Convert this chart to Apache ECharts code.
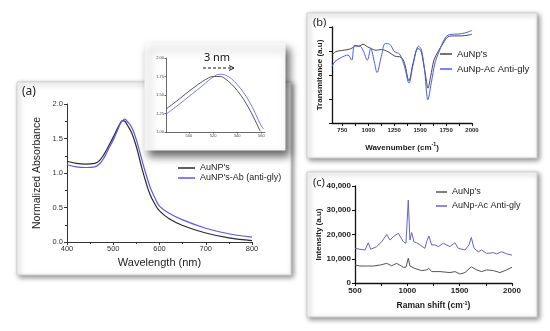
<!DOCTYPE html>
<html>
<head>
<meta charset="utf-8">
<script src="https://cdn.jsdelivr.net/npm/echarts@6/dist/echarts.min.js"></script>
<style>html,body{margin:0;padding:0;background:#fff}#c{width:550px;height:331px}</style>
</head>
<body>
<div id="c"></div>
<script>
// ---------- Panel (a): UV-Vis absorbance ----------
const absWl = [400,420,440,460,470,480,490,500,510,515,520,525,530,540,550,560,570,580,590,600,620,650,700,750,800];
const absAuNP = [1.17,1.14,1.13,1.14,1.18,1.27,1.39,1.52,1.66,1.72,1.76,1.75,1.70,1.58,1.38,1.12,0.88,0.68,0.55,0.45,0.34,0.24,0.13,0.06,0.02];
const absAuNPAb = [1.12,1.09,1.08,1.09,1.13,1.22,1.35,1.48,1.63,1.71,1.76,1.78,1.75,1.66,1.48,1.24,1.00,0.79,0.64,0.52,0.42,0.32,0.20,0.12,0.07];
// inset (zoom of peak)
const insetWlAuNP = [481,490,500,510,515,520,525,530,540,550,559];
const insetAuNP = [1.31,1.42,1.55,1.67,1.72,1.75,1.75,1.72,1.56,1.31,1.01];
const insetWlAuNPAb = [481,490,500,510,515,520,525,530,540,550,560,562];
const insetAuNPAb = [1.24,1.35,1.48,1.61,1.68,1.74,1.78,1.77,1.64,1.41,1.08,1.04];
const absXTicks = [400,500,600,700,800];
const insetXTicks = [500,520,540,560];

// ---------- Panel (b): FTIR ----------
const ftirXAuNp = [650,685,740,804,852,870,910,949,990,1029,1077,1125,1190,1254,1318,1350,1392,1431,1479,1505,1527,1559,1575,1601,1633,1672,1720,1768,1832,1897,1961,2000];
const ftirAuNp = [2.83,2.97,3.02,3.06,3.14,3.24,3.2,3.28,3.18,3.1,3.03,3.06,2.97,2.79,2.73,2.48,1.76,2.48,3.1,3.03,2.62,1.79,1.45,1.93,2.62,2.97,3.31,3.59,3.63,3.63,3.66,3.7];
const ftirXAb = [650,676,740,804,840,868,917,949,991,1023,1061,1084,1125,1164,1206,1254,1302,1350,1392,1431,1485,1511,1543,1575,1607,1646,1688,1720,1768,1832,1897,1961,2000];
const ftirAb = [2.34,2.55,2.73,2.83,2.62,3.2,3.2,3.03,2.62,3.1,2.48,2.1,2.76,3.31,3.28,2.97,2.87,2.34,1.66,2.41,3.2,3.06,2.21,0.97,1.66,2.55,3.03,3.38,3.66,3.7,3.72,3.79,3.86];
const ftirXLabels = [750,1000,1250,1500,1750,2000];
const ftirXTicks = [750,875,1000,1125,1250,1375,1500,1625,1750,1875,2000];

// ---------- Panel (c): Raman ----------
const ramanXAuNp = [500,548,611,675,739,803,850,898,962,987,1009,1025,1041,1073,1136,1184,1206,1232,1312,1407,1455,1503,1551,1611,1662,1710,1758,1822,1885,1949,2000];
const ramanAuNp = [7400,7000,7000,7000,7400,8100,7100,8100,6500,6500,10200,7000,7000,6000,5100,5400,6000,4700,4700,4300,4700,3700,4300,6700,5400,4700,5400,5100,4300,5400,6500];
const ramanXAb = [500,548,596,627,650,707,755,803,835,866,914,962,987,1009,1025,1041,1063,1089,1121,1168,1184,1206,1232,1264,1296,1344,1407,1455,1487,1551,1589,1611,1637,1678,1710,1758,1822,1853,1901,1949,2000];
const ramanAb = [14300,13900,13600,16600,13900,15000,17000,20000,17700,19100,20500,17000,16400,34200,17700,20800,17000,16600,15700,14300,17000,19400,15700,15700,15000,16400,15000,16600,14300,13600,15700,18800,14300,12900,13600,12200,12500,12000,12900,12000,11500];

const pairs = (xs, ys) => xs.map((x, i) => [x, ys[i]]);
const F = "'Liberation Sans', Arial, sans-serif";
const NF = "'Noto Sans', 'Open Sans', sans-serif";
const plain = v => String(v);

const cA = '#2a2a2a', bA = '#5a58e8';
const cB = '#454545', bB = '#4c5ce6';
const cC = '#555555', bC = '#6464c8';

const supRich = (fs) => ({
  t: {fontSize: fs, fontWeight: 'bold', fontFamily: F, color: '#1a1a1a', lineHeight: fs + 3},
  s: {fontSize: fs * 0.65, fontWeight: 'bold', fontFamily: F, color: '#1a1a1a', verticalAlign: 'top', lineHeight: fs + 3}
});

const chart = echarts.init(document.getElementById('c'), null, {renderer: 'canvas'});
chart.setOption({
  backgroundColor: '#ffffff',
  animation: false,
  graphic: {elements: [
    {type: 'rect', z: 1, shape: {x: 17, y: 82, width: 274, height: 193},
     style: {fill: '#fff', stroke: '#cfcfcf', lineWidth: 1, shadowBlur: 5, shadowOffsetX: 2, shadowOffsetY: 2, shadowColor: 'rgba(0,0,0,0.45)'}},
    {type: 'rect', z: 1, shape: {x: 307, y: 13, width: 230, height: 145},
     style: {fill: '#fff', stroke: '#cfcfcf', lineWidth: 1, shadowBlur: 5, shadowOffsetX: 2, shadowOffsetY: 2, shadowColor: 'rgba(0,0,0,0.45)'}},
    {type: 'rect', z: 1, shape: {x: 307, y: 172, width: 230, height: 145},
     style: {fill: '#fff', stroke: '#cfcfcf', lineWidth: 1, shadowBlur: 5, shadowOffsetX: 2, shadowOffsetY: 2, shadowColor: 'rgba(0,0,0,0.45)'}},
    {type: 'rect', z: 2, shape: {x: 145, y: 43, width: 140, height: 107},
     style: {fill: '#fff', stroke: '#f4f4f4', lineWidth: 1, shadowBlur: 8, shadowOffsetX: 4, shadowOffsetY: 6, shadowColor: 'rgba(0,0,0,0.6)'}},
    {type: 'text', z: 20, x: 22, y: 92, style: {text: '(a)', fontSize: 12, fontFamily: NF, fill: '#222', align: 'left', verticalAlign: 'middle'}},
    {type: 'text', z: 20, x: 313, y: 23, style: {text: '(b)', fontSize: 11, fontFamily: NF, fill: '#222', align: 'left', verticalAlign: 'middle'}},
    {type: 'text', z: 20, x: 313, y: 183, style: {text: '(c)', fontSize: 11, fontFamily: NF, fill: '#222', align: 'left', verticalAlign: 'middle'}},
    {type: 'text', z: 20, x: 217, y: 57.5, style: {text: '3 nm', fontSize: 11, fontFamily: NF, fill: '#111', align: 'center', verticalAlign: 'middle'}},
    {type: 'polyline', z: 20, shape: {points: [[203, 68], [232, 68]]}, style: {stroke: '#111', lineWidth: 1, lineDash: [3, 2]}},
    {type: 'polyline', z: 20, shape: {points: [[229, 65.5], [234, 68], [229, 70.5]]}, style: {stroke: '#111', lineWidth: 1, fill: null}}
  ]},
  grid: [
    {left: 67, top: 104, width: 185, height: 138},
    {left: 166, top: 58, width: 99, height: 74},
    {left: 332, top: 27, width: 140, height: 96},
    {left: 355, top: 186, width: 157, height: 97}
  ],
  xAxis: [
    {gridIndex: 0, type: 'value', min: 400, max: 800, interval: 100, z: 5,
     axisLine: {lineStyle: {color: '#333', width: 1}}, axisTick: {length: 3, lineStyle: {color: '#333'}},
     minorTick: {show: true, splitNumber: 2, length: 2, lineStyle: {color: '#333'}},
     splitLine: {show: false},
     axisLabel: {fontSize: 7.5, color: '#333', fontFamily: F, margin: 3, customValues: absXTicks, formatter: plain},
     name: 'Wavelength (nm)', nameLocation: 'middle', nameGap: 15,
     nameTextStyle: {fontSize: 11, color: '#222', fontFamily: F}},
    {gridIndex: 1, type: 'value', min: 481, max: 563, z: 5,
     axisLine: {lineStyle: {color: '#444', width: 0.8}}, axisTick: {length: 1.5, customValues: insetXTicks, lineStyle: {color: '#444', width: 0.8}},
     splitLine: {show: false},
     axisLabel: {fontSize: 4, color: '#444', fontFamily: F, margin: 2, customValues: insetXTicks, formatter: plain}},
    {gridIndex: 2, type: 'value', min: 650, max: 2000, z: 5,
     axisLine: {lineStyle: {color: '#111', width: 1.3}}, axisTick: {length: 3, customValues: ftirXTicks, lineStyle: {color: '#111', width: 1}},
     splitLine: {show: false},
     axisLabel: {fontSize: 6, fontWeight: 'bold', color: '#222', fontFamily: F, margin: 4, customValues: ftirXLabels, formatter: plain},
     name: '{t|Wavenumber (cm}{s|-1}{t|)}', nameLocation: 'middle', nameGap: 19,
     nameTextStyle: {rich: supRich(8)}},
    {gridIndex: 3, type: 'value', min: 500, max: 2000, interval: 500, z: 5,
     axisLine: {lineStyle: {color: '#111', width: 1.3}}, axisTick: {length: 3, lineStyle: {color: '#111', width: 1}},
     minorTick: {show: true, splitNumber: 2, length: 3, lineStyle: {color: '#111', width: 1}},
     splitLine: {show: false},
     axisLabel: {fontSize: 8, fontWeight: 'bold', color: '#222', fontFamily: F, margin: 4, formatter: plain},
     name: '{t|Raman shift (cm}{s|-1}{t|)}', nameLocation: 'middle', nameGap: 17,
     nameTextStyle: {rich: supRich(8.5)}}
  ],
  yAxis: [
    {gridIndex: 0, type: 'value', min: 0, max: 2, interval: 0.5, z: 5,
     axisLine: {show: true, lineStyle: {color: '#333', width: 1}}, axisTick: {show: true, length: 3, lineStyle: {color: '#333'}},
     minorTick: {show: true, splitNumber: 2, length: 2, lineStyle: {color: '#333'}},
     splitLine: {show: false},
     axisLabel: {fontSize: 7.5, color: '#333', fontFamily: F, margin: 4, formatter: v => v.toFixed(1)},
     name: 'Normalized Absorbance', nameLocation: 'middle', nameGap: 24,
     nameTextStyle: {fontSize: 10.5, color: '#222', fontFamily: F}},
    {gridIndex: 1, type: 'value', min: 1, max: 2, interval: 0.25, z: 5,
     axisLine: {show: true, lineStyle: {color: '#444', width: 0.8}}, axisTick: {show: true, length: 1.5, lineStyle: {color: '#444', width: 0.8}},
     splitLine: {show: false},
     axisLabel: {fontSize: 4, color: '#444', fontFamily: F, margin: 2, formatter: v => v.toFixed(2)}},
    {gridIndex: 2, type: 'value', min: 0, max: 4, interval: 1, z: 5,
     axisLine: {show: true, lineStyle: {color: '#111', width: 1.3}}, axisTick: {show: true, length: 3, lineStyle: {color: '#111', width: 1}},
     splitLine: {show: false}, axisLabel: {show: false},
     name: 'Transmitance (a.u)', nameLocation: 'middle', nameGap: 8,
     nameTextStyle: {fontSize: 8, fontWeight: 'bold', color: '#1a1a1a', fontFamily: F}},
    {gridIndex: 3, type: 'value', min: 0, max: 40000, interval: 10000, z: 5,
     axisLine: {show: true, lineStyle: {color: '#111', width: 1.3}}, axisTick: {show: true, length: 3, lineStyle: {color: '#111', width: 1}},
     splitLine: {show: false},
     axisLabel: {fontSize: 8, fontWeight: 'bold', color: '#222', fontFamily: F, margin: 4, formatter: v => v.toLocaleString('en-US')},
     name: 'Intensity (a.u)', nameLocation: 'middle', nameGap: 30,
     nameTextStyle: {fontSize: 8, fontWeight: 'bold', color: '#1a1a1a', fontFamily: F}}
  ],
  legend: [
    {left: 178, top: 163, orient: 'vertical', padding: 0, itemGap: 0, itemWidth: 17, itemHeight: 1.5, icon: 'rect', z: 20,
     textStyle: {fontSize: 9, lineHeight: 10, color: '#222', fontFamily: F},
     data: ["AuNP's", "AuNP's-Ab (anti-gly)"]},
    {left: 440, top: 48, orient: 'vertical', padding: 0, itemGap: 3, itemWidth: 12, itemHeight: 1.5, icon: 'rect', z: 20,
     textStyle: {fontSize: 9.5, lineHeight: 12, color: '#222', fontFamily: F},
     data: ["AuNp's", "AuNp-Ac Anti-gly"]},
    {left: 436, top: 186, orient: 'vertical', padding: 0, itemGap: 2, itemWidth: 11, itemHeight: 1.5, icon: 'rect', z: 20,
     textStyle: {fontSize: 9, lineHeight: 12, color: '#222', fontFamily: F},
     data: [{name: "AuNp's ", itemStyle: {color: cC}}, {name: "AuNp-Ac Anti-gly ", itemStyle: {color: bC}}]}
  ],
  series: [
    {name: "AuNP's", type: 'line', xAxisIndex: 0, yAxisIndex: 0, z: 6, smooth: 0.4, showSymbol: false, symbol: 'none',
     data: pairs(absWl, absAuNP), lineStyle: {color: cA, width: 1.2}, itemStyle: {color: cA}},
    {name: "AuNP's-Ab (anti-gly)", type: 'line', xAxisIndex: 0, yAxisIndex: 0, z: 6, smooth: 0.4, showSymbol: false, symbol: 'none',
     data: pairs(absWl, absAuNPAb), lineStyle: {color: bA, width: 1.2}, itemStyle: {color: bA}},
    {name: "AuNP's", type: 'line', xAxisIndex: 1, yAxisIndex: 1, z: 6, smooth: 0.4, showSymbol: false, symbol: 'none',
     data: pairs(insetWlAuNP, insetAuNP), lineStyle: {color: cA, width: 0.8}, itemStyle: {color: cA}},
    {name: "AuNP's-Ab (anti-gly)", type: 'line', xAxisIndex: 1, yAxisIndex: 1, z: 6, smooth: 0.4, showSymbol: false, symbol: 'none',
     data: pairs(insetWlAuNPAb, insetAuNPAb), lineStyle: {color: bA, width: 0.8}, itemStyle: {color: bA}},
    {name: "AuNp's", type: 'line', xAxisIndex: 2, yAxisIndex: 2, z: 6, smooth: 0.35, showSymbol: false, symbol: 'none',
     data: pairs(ftirXAuNp, ftirAuNp), lineStyle: {color: cB, width: 1}, itemStyle: {color: cB}},
    {name: "AuNp-Ac Anti-gly", type: 'line', xAxisIndex: 2, yAxisIndex: 2, z: 6, smooth: 0.35, showSymbol: false, symbol: 'none',
     data: pairs(ftirXAb, ftirAb), lineStyle: {color: bB, width: 1}, itemStyle: {color: bB}},
    {name: "AuNp's ", type: 'line', xAxisIndex: 3, yAxisIndex: 3, z: 6, showSymbol: false, symbol: 'none',
     data: pairs(ramanXAuNp, ramanAuNp), lineStyle: {color: cC, width: 1}, itemStyle: {color: cC}},
    {name: "AuNp-Ac Anti-gly ", type: 'line', xAxisIndex: 3, yAxisIndex: 3, z: 6, showSymbol: false, symbol: 'none',
     data: pairs(ramanXAb, ramanAb), lineStyle: {color: bC, width: 1}, itemStyle: {color: bC}}
  ]
});
</script>
</body>
</html>
